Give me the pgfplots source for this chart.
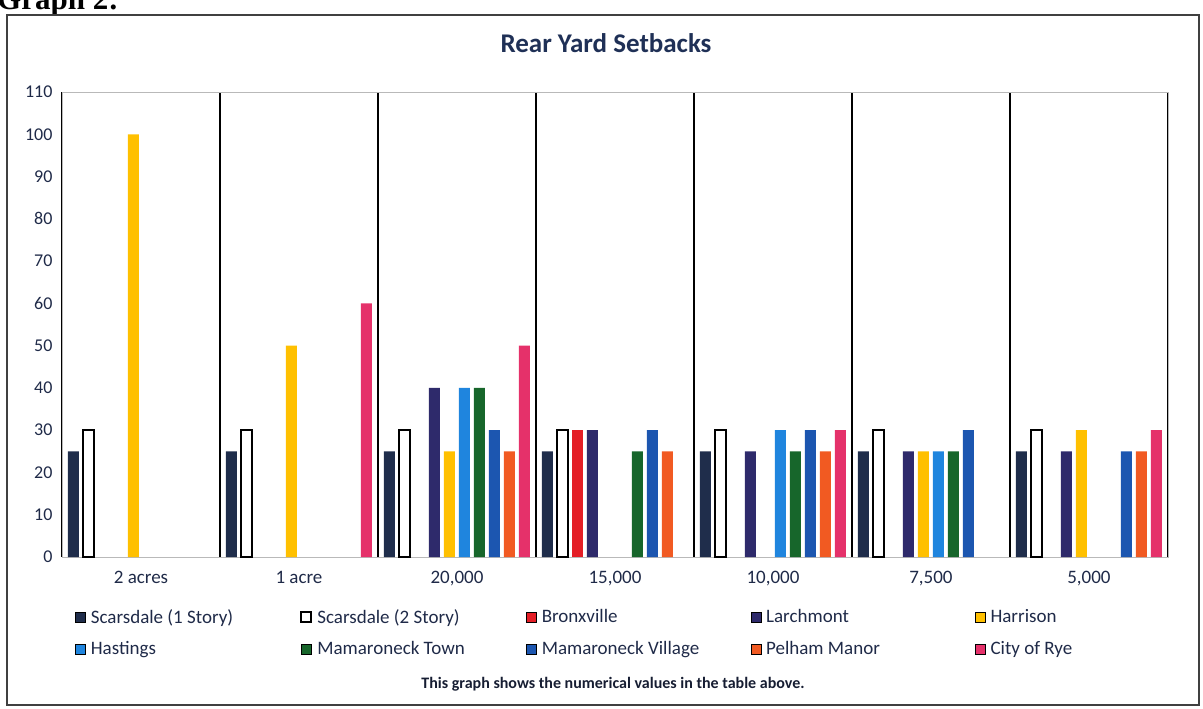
\documentclass[border=0pt]{standalone}
\usepackage{pgfplots}
\pgfplotsset{compat=1.18}
\usepackage{fontspec}
\setmainfont{Carlito}
\newfontfamily\serifb{Liberation Serif}
\definecolor{scone}{HTML}{1F2D4B}
\definecolor{bronx}{HTML}{E41E26}
\definecolor{larch}{HTML}{2E2A6B}
\definecolor{harr}{HTML}{FFC000}
\definecolor{hast}{HTML}{1F85DE}
\definecolor{mtown}{HTML}{17662B}
\definecolor{mvil}{HTML}{1C56B0}
\definecolor{pelham}{HTML}{F15A22}
\definecolor{rye}{HTML}{E5316A}
\definecolor{labc}{HTML}{1F2A48}
\definecolor{titlec}{HTML}{1F3056}
\pgfplotsset{
  sq/.style={legend image code/.code={\draw[##1] (0pt,-5pt) rectangle (10pt,5pt);}},
}
\newcommand{\legbox}[1]{\makebox[204pt][l]{#1}}
\begin{document}
\begin{tikzpicture}
\useasboundingbox (0pt,0pt) rectangle (1203pt,-709pt);
\clip (0pt,0pt) rectangle (1203pt,-709pt);
\node[anchor=base west, font=\serifb\bfseries\fontsize{31}{31}\selectfont, inner sep=0pt] at (-3pt,-10pt) {Graph 2:};
\draw[line width=2pt, black!75] (7pt,-15pt) rectangle (1199pt,-705pt);
\node[font=\bfseries\fontsize{27}{27}\selectfont, text=titlec] at (606pt,-43pt) {Rear Yard Setbacks};
\node[font=\bfseries\fontsize{16}{16}\selectfont, text=labc!70!black] at (613pt,-684pt) {This graph shows the numerical values in the table above.};
\begin{axis}[
  at={(62pt,-557pt)}, anchor=south west,
  width=1106pt, height=465pt, scale only axis,
  ybar=4pt, bar width=11pt,
  xmin=-0.5, xmax=6.5, ymin=0, ymax=110,
  xtick={0,...,6},
  xticklabels={2 acres,1 acre,{20,000},{15,000},{10,000},{7,500},{5,000}},
  minor xtick={-0.5,0.5,...,6.5},
  xminorgrids=true,
  minor grid style={black, line width=1.6pt},
  ytick={0,10,...,110},
  major tick length=0pt, minor tick length=0pt,
  axis line style={gray!55, line width=0.8pt},
  tick label style={text=labc},
  /pgf/number format/assume math mode=true,
  yticklabel style={font=\fontsize{18}{18}\selectfont, xshift=-6pt},
  xticklabel style={font=\fontsize{19}{19}\selectfont, yshift=-11pt},
  legend columns=5,
  legend style={draw=none, fill=none, at={(0.012,-0.11)}, anchor=north west,
    inner sep=0pt, column sep=4pt, row sep=15pt,
    font=\fontsize{19}{19}\selectfont, text=labc,
    nodes={inner sep=1pt, anchor=west}},
]
\addplot[fill=scone, draw=none, sq] coordinates {(0,25)(1,25)(2,25)(3,25)(4,25)(5,25)(6,25)};
\addlegendentry{\legbox{Scarsdale (1 Story)}}
\addplot[fill=white, draw=black, line width=2.5pt, sq] coordinates {(0,30)(1,30)(2,30)(3,30)(4,30)(5,30)(6,30)};
\addlegendentry{\legbox{Scarsdale (2 Story)}}
\addplot[fill=bronx, draw=none, sq] coordinates {(3,30)};
\addlegendentry{\legbox{Bronxville}}
\addplot[fill=larch, draw=none, sq] coordinates {(2,40)(3,30)(4,25)(5,25)(6,25)};
\addlegendentry{\legbox{Larchmont}}
\addplot[fill=harr, draw=none, sq] coordinates {(0,100)(1,50)(2,25)(5,25)(6,30)};
\addlegendentry{\legbox{Harrison}}
\addplot[fill=hast, draw=none, sq] coordinates {(2,40)(4,30)(5,25)};
\addlegendentry{\legbox{Hastings}}
\addplot[fill=mtown, draw=none, sq] coordinates {(2,40)(3,25)(4,25)(5,25)};
\addlegendentry{\legbox{Mamaroneck Town}}
\addplot[fill=mvil, draw=none, sq] coordinates {(2,30)(3,30)(4,30)(5,30)(6,25)};
\addlegendentry{\legbox{Mamaroneck Village}}
\addplot[fill=pelham, draw=none, sq] coordinates {(2,25)(3,25)(4,25)(6,25)};
\addlegendentry{\legbox{Pelham Manor}}
\addplot[fill=rye, draw=none, sq] coordinates {(1,60)(2,50)(4,30)(6,30)};
\addlegendentry{\legbox{City of Rye}}
\end{axis}
\end{tikzpicture}
\end{document}
